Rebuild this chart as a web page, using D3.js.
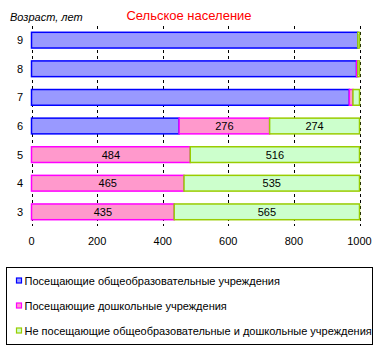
<!DOCTYPE html>
<html lang="ru">
<head>
<meta charset="UTF-8">
<script src="https://cdn.jsdelivr.net/npm/d3@7"></script>
<title>Сельское население</title>
<style>
    body { margin: 0; background: #fff; }
    svg text { font-family: "Liberation Sans", Arial, sans-serif; }
    .grid line { stroke: #000; stroke-dasharray: 3,3; }
</style>
</head>
<body>
<div id="chart"></div>
<script>
// возраст (снизу вверх)
var ages = ["3", "4", "5", "6", "7", "8", "9"];
var school = [0, 0, 0, 450, 969, 991, 995];
var preschool = [435, 465, 484, 276, 11, 4, 0];
var none = [565, 535, 516, 274, 20, 5, 5];
var ticks = [0, 200, 400, 600, 800, 1000];

var seriesNames = [
    "Посещающие общеобразовательные учреждения",
    "Посещающие дошкольные учреждения",
    "Не посещающие общеобразовательные и дошкольные учреждения"
];
var fills = ["#9999ff", "#ff99cc", "#ccffcc"];
var strokes = ["#0000ff", "#ff00ff", "#99cc00"];

var W = 379, H = 360;
var svg = d3.select("#chart").append("svg")
    .attr("width", W).attr("height", H);

var x = d3.scaleLinear().domain([0, 1000]).range([31.5, 359.5]);
var y = d3.scaleBand().domain(ages.slice().reverse()).range([26, 226]).paddingInner(0.45).paddingOuter(0.22);

// сетка
svg.append("g").attr("class", "grid")
    .selectAll("line").data(ticks).enter().append("line")
    .attr("x1", function (d) { return Math.round(x(d)) + 0.5; })
    .attr("x2", function (d) { return Math.round(x(d)) + 0.5; })
    .attr("y1", 26).attr("y2", 226);

var rows = ages.map(function (a, i) {
    return { age: a, v: [school[i], preschool[i], none[i]] };
});

rows.forEach(function (r) {
    var start = 0;
    r.v.forEach(function (v, k) {
        if (v > 0) {
            svg.append("rect")
                .attr("x", x(start))
                .attr("y", y(r.age))
                .attr("width", x(start + v) - x(start))
                .attr("height", y.bandwidth())
                .attr("fill", fills[k])
                .attr("stroke", strokes[k])
                .attr("stroke-width", 1.5);
            if (k > 0 && v > 50) {
                svg.append("text")
                    .attr("x", x(start + v / 2))
                    .attr("y", y(r.age) + y.bandwidth() / 2 + 4)
                    .attr("text-anchor", "middle")
                    .attr("font-size", 11)
                    .text(v);
            }
        }
        start += v;
    });
});

// подписи категорий
svg.append("g").selectAll("text").data(ages).enter().append("text")
    .attr("x", 20)
    .attr("y", function (d) { return y(d) + y.bandwidth() / 2 + 4; })
    .attr("text-anchor", "middle")
    .attr("font-size", 11)
    .text(function (d) { return d; });

// ось X
svg.append("g").selectAll("text").data(ticks).enter().append("text")
    .attr("x", function (d) { return x(d); })
    .attr("y", 245)
    .attr("text-anchor", "middle")
    .attr("font-size", 11)
    .text(function (d) { return d; });

svg.append("text").attr("x", 189).attr("y", 20)
    .attr("text-anchor", "middle").attr("font-size", 13).attr("fill", "#ff0000")
    .text("Сельское население");

svg.append("text").attr("x", 10).attr("y", 21)
    .attr("font-size", 11).attr("font-style", "italic")
    .text("Возраст, лет");

// легенда
var lg = svg.append("g");
lg.append("rect").attr("x", 6.5).attr("y", 267.5).attr("width", 366).attr("height", 77)
    .attr("fill", "none").attr("stroke", "#000");
seriesNames.forEach(function (n, k) {
    var cy = 281 + k * 25;
    lg.append("rect").attr("x", 16.5).attr("y", cy - 3).attr("width", 5).attr("height", 5)
        .attr("fill", fills[k]).attr("stroke", strokes[k]).attr("stroke-width", 1.2);
    lg.append("text").attr("x", 24.5).attr("y", cy + 4)
        .attr("font-size", 11).text(n);
});
</script>
</body>
</html>
